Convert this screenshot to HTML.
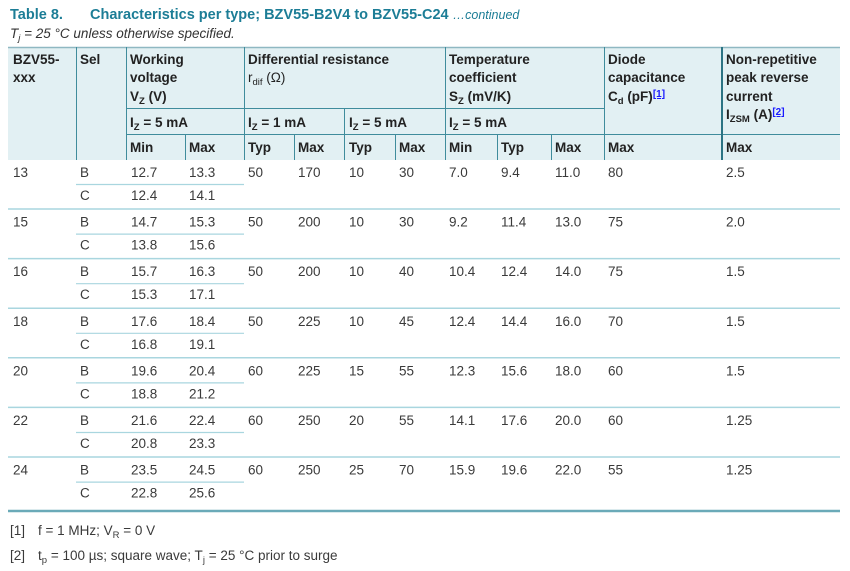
<!DOCTYPE html>
<html><head><meta charset="utf-8"><style>
body{margin:0;background:#fff;}
svg{display:block;font-family:"Liberation Sans",Arial,sans-serif;}
.h{font-weight:bold;font-size:13.5px;fill:#222;}
.d{font-size:13.5px;fill:#3a3a3a;}
.s{font-size:9.5px;}
.ln{fill:#1a1aff;text-decoration:underline;}
.sub{stroke:#a9d6df;stroke-width:1.2;}
.sep{stroke:#a9d6df;stroke-width:1.5;}
</style></head><body>
<svg width="850" height="571" viewBox="0 0 850 571">
<defs>
<g id="grp">
<line class="sub" x1="76" y1="24.5" x2="244" y2="24.5"/>
<text class="d" x="80" y="17">B</text><text class="d" x="80" y="40">C</text>
</g>
</defs>
<text x="10" y="19" font-weight="bold" font-size="14.5" fill="#1c7d96">Table 8.<tspan x="90">Characteristics per type; BZV55-B2V4 to BZV55-C24 </tspan><tspan font-weight="normal" font-style="italic" font-size="12.5">…continued</tspan></text>
<text x="10" y="38" font-style="italic" font-size="13.5" fill="#333">T<tspan class="s" dy="3">j</tspan><tspan dy="-3"> = 25 °C unless otherwise specified.</tspan></text>
<rect x="8" y="47" width="832" height="113" fill="#e2f0f3"/>
<line x1="8" y1="47.5" x2="840" y2="47.5" stroke="#8fb8c2" stroke-width="1.5"/>
<g stroke="#3f8c9c" stroke-width="1">
<line x1="76.5" y1="47" x2="76.5" y2="160"/>
<line x1="126.5" y1="47" x2="126.5" y2="160"/>
<line x1="185.5" y1="134" x2="185.5" y2="160"/>
<line x1="244.5" y1="47" x2="244.5" y2="160"/>
<line x1="294.5" y1="134" x2="294.5" y2="160"/>
<line x1="344.5" y1="108" x2="344.5" y2="160"/>
<line x1="395.5" y1="134" x2="395.5" y2="160"/>
<line x1="445.5" y1="47" x2="445.5" y2="160"/>
<line x1="497.5" y1="134" x2="497.5" y2="160"/>
<line x1="551.5" y1="134" x2="551.5" y2="160"/>
<line x1="604.5" y1="47" x2="604.5" y2="160"/>
<line x1="126" y1="108.5" x2="604" y2="108.5"/>
<line x1="126" y1="134.5" x2="840" y2="134.5"/>
</g>
<line x1="722" y1="47" x2="722" y2="160" stroke="#2c7484" stroke-width="2"/>
<g class="h">
<text x="13" y="64">BZV55-</text><text x="13" y="82">xxx</text>
<text x="80" y="64">Sel</text>
<text x="130" y="64">Working</text><text x="130" y="82">voltage</text>
<text x="130" y="101">V<tspan class="s" dy="3">Z</tspan><tspan dy="-3"> (V)</tspan></text>
<text x="248" y="64">Differential resistance</text>
<text x="248" y="82" font-weight="normal">r<tspan class="s" dy="3">dif</tspan><tspan dy="-3"> (Ω)</tspan></text>
<text x="449" y="64">Temperature</text><text x="449" y="82">coefficient</text>
<text x="449" y="101">S<tspan class="s" dy="3">Z</tspan><tspan dy="-3"> (mV/K)</tspan></text>
<text x="608" y="64">Diode</text><text x="608" y="82">capacitance</text>
<text x="608" y="101">C<tspan class="s" dy="3">d</tspan><tspan dy="-3"> (pF)</tspan><tspan class="ln" font-size="10" dy="-4">[1]</tspan></text>
<text x="726" y="64">Non-repetitive</text><text x="726" y="82">peak reverse</text><text x="726" y="101">current</text>
<text x="726" y="119">I<tspan class="s" dy="3">ZSM</tspan><tspan dy="-3"> (A)</tspan><tspan class="ln" font-size="10" dy="-4">[2]</tspan></text>
<text x="130" y="127">I<tspan class="s" dy="3">Z</tspan><tspan dy="-3"> = 5 mA</tspan></text>
<text x="248" y="127">I<tspan class="s" dy="3">Z</tspan><tspan dy="-3"> = 1 mA</tspan></text>
<text x="349" y="127">I<tspan class="s" dy="3">Z</tspan><tspan dy="-3"> = 5 mA</tspan></text>
<text x="449" y="127">I<tspan class="s" dy="3">Z</tspan><tspan dy="-3"> = 5 mA</tspan></text>
<text x="130" y="152">Min</text><text x="189" y="152">Max</text>
<text x="248" y="152">Typ</text><text x="298" y="152">Max</text>
<text x="349" y="152">Typ</text><text x="399" y="152">Max</text>
<text x="449" y="152">Min</text><text x="501" y="152">Typ</text><text x="555" y="152">Max</text>
<text x="608" y="152">Max</text><text x="726" y="152">Max</text>
</g>

<g class="d" transform="translate(0,160)">
<use href="#grp"/>
<text x="13" y="17">13</text><text x="131" y="17">12.7</text><text x="189" y="17">13.3</text><text x="248" y="17">50</text><text x="298" y="17">170</text><text x="349" y="17">10</text><text x="399" y="17">30</text><text x="449" y="17">7.0</text><text x="501" y="17">9.4</text><text x="555" y="17">11.0</text><text x="608" y="17">80</text><text x="726" y="17">2.5</text>
<text x="131" y="40">12.4</text><text x="189" y="40">14.1</text>
<line class="sep" x1="8" y1="49" x2="840" y2="49"/>
</g>
<g class="d" transform="translate(0,209.6)">
<use href="#grp"/>
<text x="13" y="17">15</text><text x="131" y="17">14.7</text><text x="189" y="17">15.3</text><text x="248" y="17">50</text><text x="298" y="17">200</text><text x="349" y="17">10</text><text x="399" y="17">30</text><text x="449" y="17">9.2</text><text x="501" y="17">11.4</text><text x="555" y="17">13.0</text><text x="608" y="17">75</text><text x="726" y="17">2.0</text>
<text x="131" y="40">13.8</text><text x="189" y="40">15.6</text>
<line class="sep" x1="8" y1="49" x2="840" y2="49"/>
</g>
<g class="d" transform="translate(0,259.2)">
<use href="#grp"/>
<text x="13" y="17">16</text><text x="131" y="17">15.7</text><text x="189" y="17">16.3</text><text x="248" y="17">50</text><text x="298" y="17">200</text><text x="349" y="17">10</text><text x="399" y="17">40</text><text x="449" y="17">10.4</text><text x="501" y="17">12.4</text><text x="555" y="17">14.0</text><text x="608" y="17">75</text><text x="726" y="17">1.5</text>
<text x="131" y="40">15.3</text><text x="189" y="40">17.1</text>
<line class="sep" x1="8" y1="49" x2="840" y2="49"/>
</g>
<g class="d" transform="translate(0,308.8)">
<use href="#grp"/>
<text x="13" y="17">18</text><text x="131" y="17">17.6</text><text x="189" y="17">18.4</text><text x="248" y="17">50</text><text x="298" y="17">225</text><text x="349" y="17">10</text><text x="399" y="17">45</text><text x="449" y="17">12.4</text><text x="501" y="17">14.4</text><text x="555" y="17">16.0</text><text x="608" y="17">70</text><text x="726" y="17">1.5</text>
<text x="131" y="40">16.8</text><text x="189" y="40">19.1</text>
<line class="sep" x1="8" y1="49" x2="840" y2="49"/>
</g>
<g class="d" transform="translate(0,358.4)">
<use href="#grp"/>
<text x="13" y="17">20</text><text x="131" y="17">19.6</text><text x="189" y="17">20.4</text><text x="248" y="17">60</text><text x="298" y="17">225</text><text x="349" y="17">15</text><text x="399" y="17">55</text><text x="449" y="17">12.3</text><text x="501" y="17">15.6</text><text x="555" y="17">18.0</text><text x="608" y="17">60</text><text x="726" y="17">1.5</text>
<text x="131" y="40">18.8</text><text x="189" y="40">21.2</text>
<line class="sep" x1="8" y1="49" x2="840" y2="49"/>
</g>
<g class="d" transform="translate(0,408)">
<use href="#grp"/>
<text x="13" y="17">22</text><text x="131" y="17">21.6</text><text x="189" y="17">22.4</text><text x="248" y="17">60</text><text x="298" y="17">250</text><text x="349" y="17">20</text><text x="399" y="17">55</text><text x="449" y="17">14.1</text><text x="501" y="17">17.6</text><text x="555" y="17">20.0</text><text x="608" y="17">60</text><text x="726" y="17">1.25</text>
<text x="131" y="40">20.8</text><text x="189" y="40">23.3</text>
<line class="sep" x1="8" y1="49" x2="840" y2="49"/>
</g>
<g class="d" transform="translate(0,457.6)">
<use href="#grp"/>
<text x="13" y="17">24</text><text x="131" y="17">23.5</text><text x="189" y="17">24.5</text><text x="248" y="17">60</text><text x="298" y="17">250</text><text x="349" y="17">25</text><text x="399" y="17">70</text><text x="449" y="17">15.9</text><text x="501" y="17">19.6</text><text x="555" y="17">22.0</text><text x="608" y="17">55</text><text x="726" y="17">1.25</text>
<text x="131" y="40">22.8</text><text x="189" y="40">25.6</text>
</g>

<line x1="8" y1="511" x2="840" y2="511" stroke="#6aaab8" stroke-width="2.5"/>
<text class="d" x="10" y="535" font-size="12.5">[1]<tspan x="38">f = 1 MHz; V</tspan><tspan class="s" dy="3">R</tspan><tspan dy="-3"> = 0 V</tspan></text>
<text class="d" x="10" y="560" font-size="12.5">[2]<tspan x="38">t</tspan><tspan class="s" dy="3">p</tspan><tspan dy="-3"> = 100 µs; square wave; T</tspan><tspan class="s" dy="3">j</tspan><tspan dy="-3"> = 25 °C prior to surge</tspan></text>
</svg>
</body></html>
